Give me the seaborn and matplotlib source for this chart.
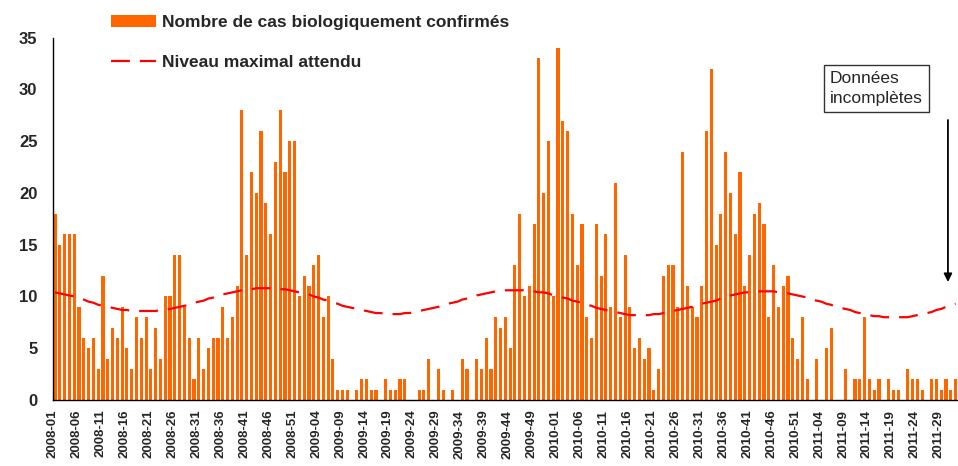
import numpy as np
import matplotlib
matplotlib.use("Agg")
import matplotlib.pyplot as plt
from matplotlib.patches import Patch
from matplotlib.lines import Line2D
import seaborn as sns

sns.set_style("white")
plt.rcParams["font.family"] = ["Liberation Sans", "DejaVu Sans"]

# weeks shown: 2008-01 .. 2011-32
years = [2008, 2009, 2010, 2011]
weeks_per_year = [52, 53, 52, 32]
weeks = ["{}-{:02d}".format(y, w) for y, n in zip(years, weeks_per_year) for w in range(1, n + 1)]

# number of biologically confirmed cases per week
cases = [18, 15, 16, 16, 16, 9, 6, 5, 6, 3, 12, 4, 7, 6, 9,
         5, 3, 8, 6, 8, 3, 7, 4, 10, 10, 14, 14, 9, 6, 2,
         6, 3, 5, 6, 6, 9, 6, 8, 11, 28, 14, 22, 20, 26, 19,
         16, 23, 28, 22, 25, 25, 10, 12, 11, 13, 14, 8, 10, 4, 1,
         1, 1, 0, 1, 2, 2, 1, 1, 0, 2, 1, 1, 2, 2, 0,
         0, 1, 1, 4, 0, 3, 1, 0, 1, 0, 4, 3, 0, 4, 3,
         6, 3, 8, 7, 8, 5, 13, 18, 10, 11, 17, 33, 20, 25, 10,
         34, 27, 26, 18, 13, 17, 8, 6, 17, 12, 16, 9, 21, 8, 14,
         9, 5, 6, 4, 5, 1, 3, 12, 13, 13, 9, 24, 11, 9, 8,
         11, 26, 32, 15, 18, 24, 20, 16, 22, 11, 14, 18, 19, 17, 8,
         13, 9, 11, 12, 6, 4, 8, 2, 0, 4, 0, 5, 7, 0, 0,
         3, 0, 2, 2, 8, 2, 1, 2, 0, 2, 1, 1, 0, 3, 2,
         2, 1, 0, 2, 2, 1, 2, 1, 2]

# expected maximum level (seasonal threshold)
max_level = [10.4, 10.3, 10.2, 10.1, 10.0, 9.8, 9.7, 9.5, 9.4, 9.2, 9.1, 9.0, 8.9, 8.8, 8.7,
             8.7, 8.6, 8.6, 8.6, 8.6, 8.6, 8.6, 8.7, 8.7, 8.8, 8.9, 9.0, 9.1, 9.2, 9.4,
             9.5, 9.6, 9.8, 9.9, 10.1, 10.2, 10.3, 10.4, 10.5, 10.6, 10.7, 10.7, 10.8, 10.8, 10.8,
             10.8, 10.8, 10.7, 10.7, 10.6, 10.5, 10.4, 10.3, 10.2, 10.0, 9.9, 9.7, 9.6, 9.4, 9.3,
             9.1, 9.0, 8.9, 8.8, 8.7, 8.6, 8.5, 8.4, 8.4, 8.3, 8.3, 8.3, 8.3, 8.4, 8.4,
             8.5, 8.6, 8.7, 8.8, 8.9, 9.0, 9.1, 9.3, 9.4, 9.5, 9.7, 9.8, 9.9, 10.1, 10.2,
             10.3, 10.4, 10.5, 10.6, 10.6, 10.6, 10.6, 10.6, 10.6, 10.5, 10.5, 10.4, 10.4, 10.3, 10.1,
             10.0, 9.9, 9.8, 9.6, 9.5, 9.4, 9.2, 9.1, 8.9, 8.8, 8.7, 8.6, 8.5, 8.4, 8.3,
             8.2, 8.2, 8.2, 8.2, 8.2, 8.3, 8.3, 8.4, 8.5, 8.6, 8.7, 8.8, 8.9, 9.0, 9.2,
             9.3, 9.4, 9.5, 9.6, 9.8, 9.9, 10.1, 10.2, 10.3, 10.4, 10.4, 10.5, 10.5, 10.5, 10.5,
             10.5, 10.4, 10.3, 10.3, 10.2, 10.1, 10.0, 9.9, 9.7, 9.6, 9.5, 9.3, 9.2, 9.0, 8.9,
             8.8, 8.7, 8.5, 8.4, 8.3, 8.2, 8.1, 8.1, 8.0, 8.0, 8.0, 8.0, 8.0, 8.0, 8.1,
             8.2, 8.3, 8.4, 8.5, 8.7, 8.8, 9.0, 9.2, 9.3]

bar_label = "Nombre de cas biologiquement confirmés"
line_label = "Niveau maximal attendu"
note = "Données\nincomplètes"

BAR_COLOR = "#FF6600"
LINE_COLOR = "#FF0000"

fig = plt.figure(figsize=(9.58, 4.66), dpi=100)
ax = fig.add_axes([0.055, 0.1416, 0.945, 0.7775])

sns.barplot(x=weeks, y=cases, color=BAR_COLOR, width=0.65, saturation=1,
            edgecolor="none", linewidth=0, ax=ax)
x = np.arange(len(weeks))
ax.plot(x, max_level, color=LINE_COLOR, lw=1.6, dashes=(8.5, 4.5))

ax.set_xlim(-0.5, len(weeks) - 0.5)
ax.set_ylim(0, 35)
ax.set_yticks(range(0, 36, 5))
ax.set_yticklabels([str(v) for v in range(0, 36, 5)], fontsize=12, fontweight="bold")

tick_pos = np.arange(0, len(weeks), 5)
ax.set_xticks(tick_pos - 0.5)
ax.set_xticklabels([weeks[i] for i in tick_pos], rotation=90, fontsize=9.5, fontweight="bold")
ax.set_xlabel("")
ax.set_ylabel("")

for s in ["top", "right"]:
    ax.spines[s].set_visible(False)
for s in ["left", "bottom"]:
    ax.spines[s].set_color("black")
    ax.spines[s].set_linewidth(1.0)
ax.tick_params(axis="y", direction="out", length=5, color="#808080", pad=6)
ax.tick_params(axis="x", direction="out", length=5, color="black", pad=2)

handles = [Patch(facecolor=BAR_COLOR, edgecolor="none"),
           Line2D([], [], color=LINE_COLOR, lw=1.6, dashes=(8.5, 4.5))]
fig.legend(handles, [bar_label, line_label], loc="upper left",
           bbox_to_anchor=(0.1086, 0.983), frameon=False, handlelength=2.6,
           handletextpad=0.35, labelspacing=1.45, borderaxespad=0,
           prop={"weight": "bold", "size": 12.5})

# incomplete-data note with arrow
ax.text(161.8, 31.8, note, ha="left", va="top", fontsize=12.5, linespacing=1.45,
        bbox=dict(boxstyle="square,pad=0.35", facecolor="white", edgecolor="#333333", lw=1))
ax.annotate("", xy=(186.4, 11.4), xytext=(186.4, 27.05),
            arrowprops=dict(arrowstyle="-|>", color="black", lw=1.3,
                            mutation_scale=12, shrinkA=0, shrinkB=0))

fig.savefig("out.png", dpi=100)
